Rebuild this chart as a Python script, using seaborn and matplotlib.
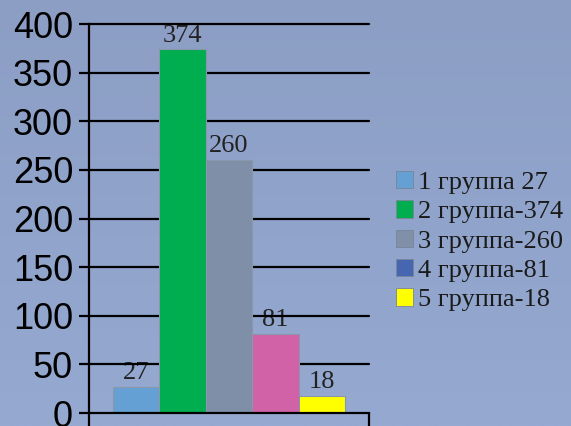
import numpy as np
import pandas as pd
import matplotlib
matplotlib.use("Agg")
import matplotlib.pyplot as plt
from matplotlib.patches import Patch
import seaborn as sns

# data
groups = ["1 группа", "2 группа", "3 группа", "4 группа", "5 группа"]
values = [27, 374, 260, 81, 18]
legend_labels = ["1 группа 27", "2 группа-374", "3 группа-260", "4 группа-81", "5 группа-18"]
bar_colors = ["#64a0d4", "#00ad4f", "#7f8fa8", "#d262a8", "#ffff00"]
legend_colors = ["#64a0d4", "#00ad4f", "#8090a8", "#4766b2", "#ffff00"]
y_ticks = [0, 50, 100, 150, 200, 250, 300, 350, 400]

df = pd.DataFrame({"group": groups, "value": values})

sns.set_style("white")
plt.rcParams["font.family"] = ["Liberation Serif", "DejaVu Serif"]

fig = plt.figure(figsize=(5.71, 4.26), dpi=100)

# gradient background
bg = fig.add_axes([0, 0, 1, 1], zorder=-10)
grad = np.linspace(0, 1, 256).reshape(-1, 1)
cmap = matplotlib.colors.LinearSegmentedColormap.from_list("bg", ["#8c9ec4", "#95a9d1"])
bg.imshow(grad, aspect="auto", cmap=cmap, extent=[0, 1, 0, 1], origin="upper")
bg.axis("off")

ax = fig.add_axes([0.1559, 0.0305, 0.4904, 0.9131])
ax.set_facecolor("none")

sns.barplot(data=df, x="group", y="value", hue="group", palette=bar_colors,
            saturation=1, width=1.0, legend=False, edgecolor="#8a96aa", linewidth=0.8,
            ax=ax, zorder=2)

for y in y_ticks[1:]:
    ax.axhline(y, color="black", lw=1.6, zorder=1.5, clip_on=False)

for cont in ax.containers:
    labels = ax.bar_label(cont, padding=2, fontsize=19, color="#222222")
    for t in labels:
        t.set_zorder(1)

ax.set_ylim(0, 400)
ax.set_xlim(-1.016, 5.016)
ax.set_yticks(y_ticks)
ax.set_yticklabels([str(v) for v in y_ticks], family=["Liberation Sans", "DejaVu Sans"],
                   fontsize=26, color="black")
ax.set_xticks([-1.016, 5.016])
ax.set_xticklabels([])
ax.tick_params(axis="y", length=7.5, width=1.6, color="black", pad=4, direction="out", left=True)
ax.tick_params(axis="x", length=10, width=1.6, color="black", direction="out", bottom=True)
ax.set_xlabel("")
ax.set_ylabel("")

for side in ["top", "right"]:
    ax.spines[side].set_visible(False)
for side in ["left", "bottom"]:
    ax.spines[side].set_color("black")
    ax.spines[side].set_linewidth(1.6)

handles = [Patch(facecolor=c, edgecolor="#7a8498", linewidth=0.6) for c in legend_colors]
fig.legend(handles, legend_labels, loc="center left", bbox_to_anchor=(0.693, 0.434),
           frameon=False, prop={"family": ["Liberation Serif", "DejaVu Serif"], "size": 19},
           handlelength=0.64, handleheight=0.64, handletextpad=0.2, labelspacing=0.24,
           borderpad=0, borderaxespad=0, labelcolor="#1a1a1a")

fig.savefig("out.png", dpi=100)
